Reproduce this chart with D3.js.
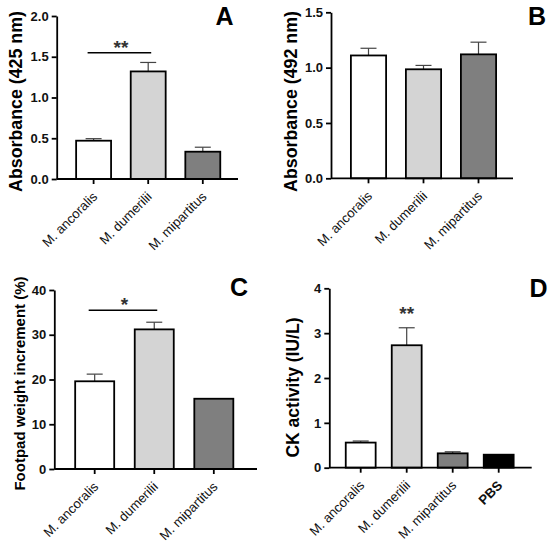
<!DOCTYPE html>
<html>
<head>
<meta charset="utf-8">
<script src="https://cdn.jsdelivr.net/npm/d3@7"></script>
<style>
  body { margin: 0; background: #fff; }
  svg { display: block; font-family: Arial, "Liberation Sans", sans-serif; }
</style>
</head>
<body>
<div id="vis"></div>
<script>
// categories
const species = ['M. ancoralis', 'M. dumerilii', 'M. mipartitus'];
const ckGroups = ['M. ancoralis', 'M. dumerilii', 'M. mipartitus', 'PBS'];

// series values (mean and upper error)
const abs425 = [0.47, 1.32, 0.335];
const abs425Err = [0.025, 0.11, 0.055];
const abs492 = [1.11, 0.985, 1.12];
const abs492Err = [0.065, 0.035, 0.11];
const footpad = [19.6, 31.2, 15.7];
const footpadErr = [1.6, 1.6, 0];
const ckActivity = [0.56, 2.73, 0.32, 0.29];
const ckActivityErr = [0.035, 0.39, 0.035, 0];

// tick labels
const ticksA = [0, 0.5, 1.0, 1.5, 2.0];
const ticksB = [0, 0.5, 1.0, 1.5];
const ticksC = [0, 10, 20, 30, 40];
const ticksD = [0, 1, 2, 3, 4];

const fills = ['#ffffff', '#d4d4d4', '#7f7f7f', '#000000'];

const svg = d3.select('#vis')
    .append('svg')
    .attr('width', 550)
    .attr('height', 546);

// one GraphPad-style bar panel
function drawPanel(p) {
    const g = svg.append('g');

    const x = d3.scaleBand()
        .domain(p.cats)
        .range(p.xRange)
        .paddingInner(p.pad)
        .paddingOuter(p.pad / 2);

    const y = d3.scaleLinear()
        .domain([0, d3.max(p.ticks)])
        .range(p.yRange);

    const rows = p.cats.map((c, i) => ({cat: c, v: p.values[i], e: p.errs[i], fill: fills[i]}));

    // error bars (behind bars)
    const eb = g.append('g').attr('stroke', '#444').attr('stroke-width', 1.2);
    rows.filter(d => d.e > 0).forEach(d => {
        const cx = x(d.cat) + x.bandwidth() / 2;
        eb.append('line').attr('x1', cx).attr('x2', cx).attr('y1', y(d.v)).attr('y2', y(d.v + d.e));
        eb.append('line').attr('x1', cx - 8).attr('x2', cx + 8).attr('y1', y(d.v + d.e)).attr('y2', y(d.v + d.e));
    });

    g.selectAll('rect.bar')
        .data(rows)
        .enter()
        .append('rect')
        .attr('class', 'bar')
        .attr('x', d => x(d.cat))
        .attr('y', d => y(d.v))
        .attr('width', x.bandwidth())
        .attr('height', d => y(0) - y(d.v))
        .attr('fill', d => d.fill)
        .attr('stroke', '#000')
        .attr('stroke-width', 1.8);

    // y axis
    const yAxis = d3.axisLeft(y)
        .tickValues(p.ticks)
        .tickFormat(p.fmt)
        .tickSize(5)
        .tickPadding(3)
        .tickSizeOuter(0);
    const ya = g.append('g')
        .attr('transform', `translate(${p.axisX},0)`)
        .call(yAxis);
    ya.select('.domain').attr('stroke-width', 1.8);
    ya.selectAll('.tick line').attr('stroke-width', 1.8);
    ya.selectAll('text')
        .attr('font-size', 13)
        .attr('font-weight', 'bold')
        .attr('fill', '#111');

    // x axis
    const xAxis = d3.axisBottom(x).tickSize(5).tickSizeOuter(0);
    const xa = g.append('g')
        .attr('transform', `translate(0,${y(0)})`)
        .call(xAxis);
    xa.select('.domain').remove();
    xa.append('line')
        .attr('x1', p.axisX).attr('x2', p.axisEnd)
        .attr('stroke', '#000').attr('stroke-width', 1.8);
    xa.selectAll('.tick line').attr('stroke-width', 1.8);
    xa.selectAll('text')
        .attr('x', 0).attr('y', 0).attr('dy', 0)
        .attr('transform', 'translate(4.5,18.5) rotate(-45)')
        .style('text-anchor', 'end')
        .attr('font-size', 13.2)
        .attr('font-weight', d => d === 'PBS' ? 'bold' : 'normal')
        .attr('fill', '#111');

    // y axis title
    g.append('text')
        .attr('transform', `translate(${p.titleX},${p.titleY}) rotate(-90)`)
        .style('text-anchor', 'middle')
        .attr('font-size', p.titleSize)
        .attr('font-weight', 'bold')
        .text(p.title);

    // panel letter
    g.append('text')
        .attr('x', p.letterPos[0]).attr('y', p.letterPos[1])
        .style('text-anchor', 'middle')
        .attr('font-size', 25)
        .attr('font-weight', 'bold')
        .text(p.letter);

    // significance marks
    if (p.bracket) {
        const [a, b, v] = p.bracket;
        g.append('line')
            .attr('x1', x(a) + x.bandwidth() / 2 - 6).attr('x2', x(b) + x.bandwidth() / 2 + 3)
            .attr('y1', y(v)).attr('y2', y(v))
            .attr('stroke', '#000').attr('stroke-width', 1.5);
        g.append('text')
            .attr('x', (x(a) + x(b)) / 2 + x.bandwidth() / 2)
            .attr('y', y(v) + 1)
            .style('text-anchor', 'middle')
            .attr('font-size', 19)
            .attr('font-weight', 'bold')
            .attr('fill', '#333')
            .text(p.star);
    }
    if (p.starOver) {
        const [c, v] = p.starOver;
        g.append('text')
            .attr('x', x(c) + x.bandwidth() / 2)
            .attr('y', y(v))
            .style('text-anchor', 'middle')
            .attr('font-size', 19)
            .attr('font-weight', 'bold')
            .attr('fill', '#333')
            .text(p.star);
    }
}

drawPanel({
    cats: species, values: abs425, errs: abs425Err, ticks: ticksA, fmt: d3.format('.1f'),
    xRange: [66.3, 230.1], pad: 0.36, yRange: [179, 16], axisX: 56.7, axisEnd: 238,
    title: 'Absorbance (425 nm)', titleX: 22, titleY: 101.5, titleSize: 17.8,
    letter: 'A', letterPos: [224.5, 25], bracket: ['M. ancoralis', 'M. dumerilii', 1.55], star: '**'
});

drawPanel({
    cats: species, values: abs492, errs: abs492Err, ticks: ticksB, fmt: d3.format('.1f'),
    xRange: [341, 506], pad: 0.36, yRange: [178.3, 12.3], axisX: 331, axisEnd: 513,
    title: 'Absorbance (492 nm)', titleX: 297, titleY: 101.5, titleSize: 17.8,
    letter: 'B', letterPos: [537, 25]
});

drawPanel({
    cats: species, values: footpad, errs: footpadErr, ticks: ticksC, fmt: d3.format('d'),
    xRange: [64.9, 243.6], pad: 0.345, yRange: [469, 290], axisX: 54.3, axisEnd: 257,
    title: 'Footpad weight increment (%)', titleX: 25, titleY: 383.5, titleSize: 15,
    letter: 'C', letterPos: [239, 296], bracket: ['M. ancoralis', 'M. dumerilii', 35.5], star: '*'
});

drawPanel({
    cats: ckGroups, values: ckActivity, errs: ckActivityErr, ticks: ticksD, fmt: d3.format('d'),
    xRange: [337.7, 521.7], pad: 0.35, yRange: [467.7, 288.3], axisX: 329.3, axisEnd: 531.7,
    title: 'CK activity (IU/L)', titleX: 298.5, titleY: 387.5, titleSize: 17.5,
    letter: 'D', letterPos: [538.5, 297], starOver: ['M. dumerilii', 3.3], star: '**'
});
</script>
</body>
</html>
